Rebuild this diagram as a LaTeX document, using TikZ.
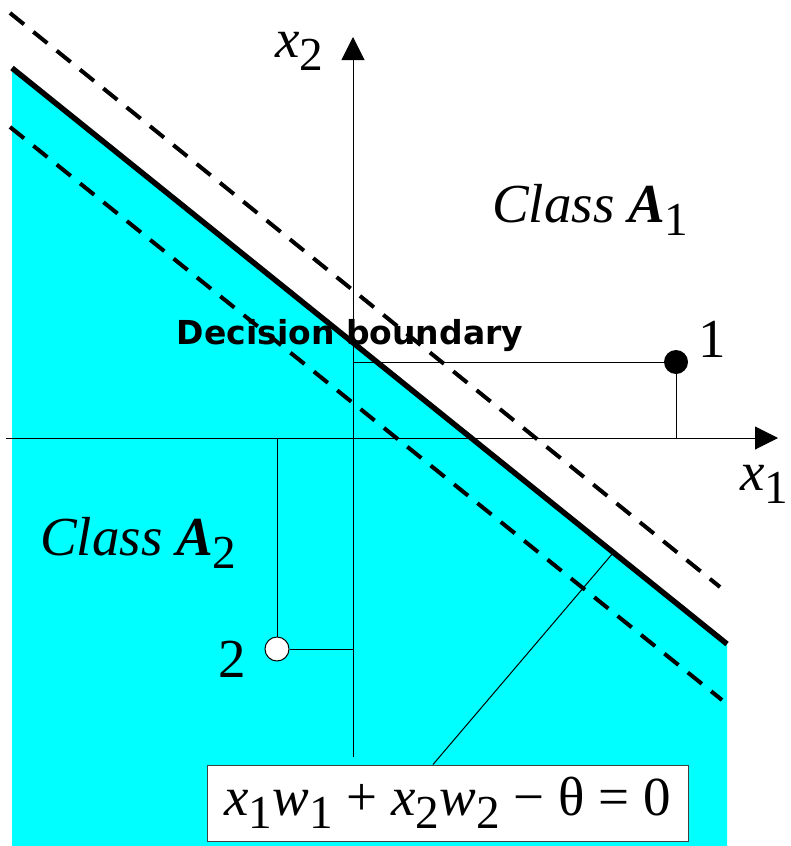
\documentclass[tikz,border=0pt]{standalone}
\usepackage{fontspec}
\setmainfont{Liberation Serif}
\newfontfamily\labelfont{DejaVu Sans}
\usepackage{graphicx}
\usetikzlibrary{arrows.meta, positioning, calc}

\definecolor{regioncyan}{RGB}{0,255,255}
% lowered, slightly smaller index
\newcommand{\lowsub}[1]{\raisebox{-0.24em}{\scalebox{0.86}{#1}}}

\begin{document}
\begin{tikzpicture}[x=1pt, y=-1pt, >={Triangle[length=23pt, width=23pt]},
  thinline/.style={line width=1pt},
  margin/.style={line width=4pt, dash pattern=on 18pt off 12pt},
  bigtext/.style={font=\fontsize{55}{60}\selectfont, inner sep=0pt},
  eqbox/.style={draw=black!75, line width=1pt, fill=white, inner sep=0pt,
                minimum width=481pt, minimum height=76pt,
                font=\fontsize{55}{60}\selectfont}]

\useasboundingbox (0,0) rectangle (790,846);

% =============== REGION A2 ===============
\fill[regioncyan] (12,68) -- (727,644) -- (727,846) -- (12,846) -- cycle;

% =============== BOUNDARY AND MARGINS ===============
\draw[margin] (10,13) -- (720,587);
\draw[margin] (10,127) -- (722,700);
\draw[line width=5.5pt] (12,68) -- (727,644);
\coordinate (bd) at (613,553);

% =============== AXES ===============
\coordinate (O) at (353,438);
\draw[thinline, ->] (6,438) -- (778,438);
\draw[thinline, ->] (353,757) -- (353,37);
\node[bigtext, anchor=base west] (x1) at (740,490) {\textit{x}\lowsub{1}};
\node[bigtext, anchor=base west] (x2) at (275,57) {\textit{x}\lowsub{2}};

% =============== SAMPLES ===============
\node[circle, fill=black, minimum size=24pt, inner sep=0pt] (p1) at (676,362) {};
\draw[thinline] (p1.west) -- (p1 -| O);
\draw[thinline] (p1.south) -- (p1 |- O);
\node[bigtext, anchor=base] (n1) at (712,357) {1};

\node[circle, draw=black, thinline, fill=white, minimum size=24pt, inner sep=0pt] (p2) at (277,649) {};
\draw[thinline] (p2.east) -- (p2 -| O);
\draw[thinline] (p2.north) -- (p2 |- O);
\node[bigtext, anchor=base] (n2) at (232,677) {2};

% =============== LABELS ===============
\node[bigtext, anchor=base west] (cA1) at (492,222) {\textit{Class} \textbf{\textit{A}}\lowsub{1}};
\node[bigtext, anchor=base west] (cA2) at (40,555) {\textit{Class} \textbf{\textit{A}}\lowsub{2}};
\node[font=\labelfont\bfseries\fontsize{33}{36}\selectfont, inner sep=0pt, anchor=base] (dec) at (350,344) {Decision boundary};

\node[eqbox] (eq) at (447.5,803) {\textit{x}\lowsub{1}\textit{w}\lowsub{1} + \textit{x}\lowsub{2}\textit{w}\lowsub{2} − θ = 0};
\draw[thinline] ([xshift=-14.5pt]eq.north) -- (bd);

\end{tikzpicture}
\end{document}
